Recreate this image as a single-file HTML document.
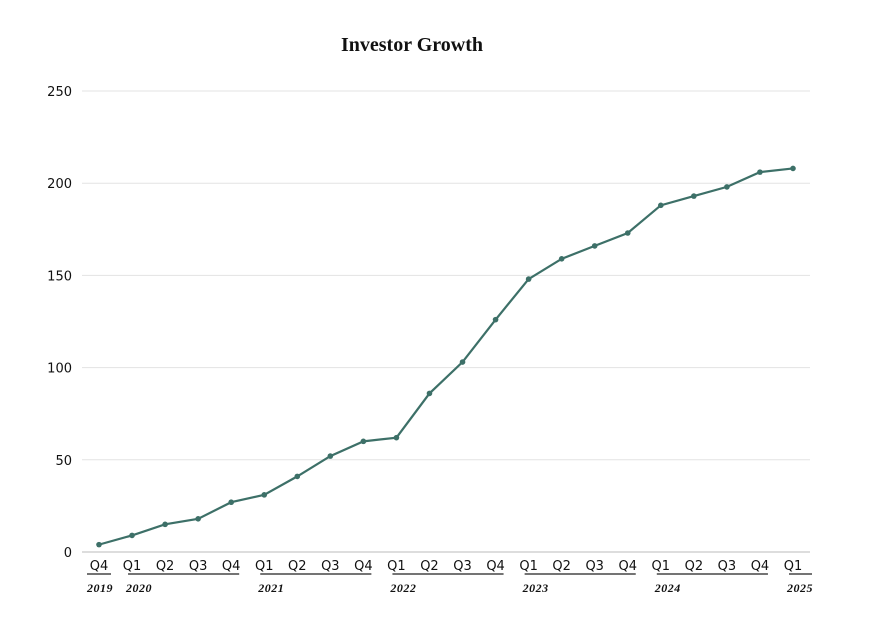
<!DOCTYPE html>
<html><head><meta charset="utf-8"><style>
body{margin:0;background:#fff;}
svg{display:block;}
.q{font-family:"DejaVu Sans","Liberation Sans",sans-serif;font-size:13px;fill:#111;}
.yr{font-family:"Liberation Serif",serif;font-style:italic;font-weight:bold;font-size:12px;letter-spacing:0.5px;fill:#111;}
</style></head><body>
<svg id="chart" width="869" height="620">
<text x="412" y="51" text-anchor="middle" font-family="Liberation Serif,serif" font-weight="bold" font-size="20" fill="#111">Investor Growth</text>
<g id="grid"></g><g id="xaxis"></g><g id="series"></g>
</svg>
<script>
const quarters=["Q4","Q1","Q2","Q3","Q4","Q1","Q2","Q3","Q4","Q1","Q2","Q3","Q4","Q1","Q2","Q3","Q4","Q1","Q2","Q3","Q4","Q1"];
const values=[4,9,15,18,27,31,41,52,60,62,86,103,126,148,159,166,173,188,193,198,206,208];
const yTicks=[0,50,100,150,200,250];
const years=["2019","2020","2021","2022","2023","2024","2025"];
const yearStart=[0,1,5,9,13,17,21];
const yearEnd=[0,4,8,12,16,20,21];
const NS="http://www.w3.org/2000/svg";
const x=i=>99+i*(793-99)/(quarters.length-1);
const y=v=>552-v*(552-91)/250;
function mk(t,a,p){const e=document.createElementNS(NS,t);for(const k in a)e.setAttribute(k,a[k]);p.appendChild(e);return e;}
const grid=document.getElementById('grid'),xa=document.getElementById('xaxis'),se=document.getElementById('series');
yTicks.forEach(v=>{
 const l=mk('line',{x1:82,x2:810,y1:y(v),y2:y(v),stroke:v===0?'#bbb':'#e3e3e3','stroke-width':1},grid);
 
 
 const t=mk('text',{x:72,y:y(v)+5,'text-anchor':'end',class:'q'},grid);t.textContent=v;
 
 
});
quarters.forEach((q,i)=>{
 const t=mk('text',{x:x(i),y:570,'text-anchor':'middle',class:'q'},xa);t.textContent=q;
 
 
});
years.forEach((yr,k)=>{
 const first=k===0;
 const x1=x(yearStart[k])-(first?12:4),x2=x(yearEnd[k])+(k===6?19:(first?12:8));
 const l=mk('line',{x1:x1,x2:x2,y1:574,y2:574,stroke:'#222','stroke-width':1.2},xa);
 
 
 const t=mk('text',{x:x(yearStart[k])-(first?12:6),y:592,class:'yr'},xa);t.textContent=yr;
 
 
});
const p=mk('polyline',{points:values.map((v,i)=>x(i)+','+y(v)).join(' '),fill:'none',stroke:'#3d7068','stroke-width':2.2},se);


values.forEach((v,i)=>{
 const c=mk('circle',{cx:x(i),cy:y(v),r:2.8,fill:'#3d7068'},se);
 
 
});
</script>
</body></html>
